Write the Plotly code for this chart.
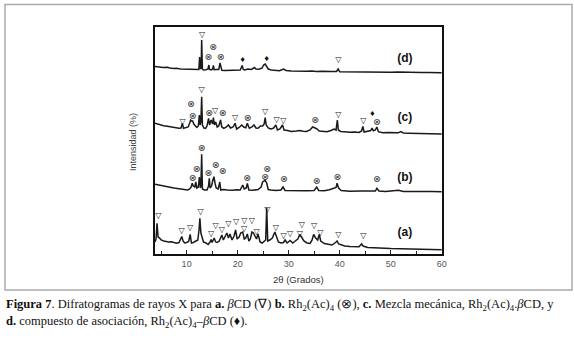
import plotly.graph_objects as go

# ---------------- data (2theta in degrees, intensity in arbitrary units) -------------
trace_d = [(3.8, 187.5), (4.5, 187), (5.4, 186.5), (6.2, 186.8), (6.7, 186), (7.5, 185.6), (8.0, 185.8),
           (8.8, 185), (9.4, 184.8), (10.0, 185.1), (10.7, 184.5), (11.3, 184.7), (12.0, 184.3), (12.4, 184.5),
           (12.55, 197), (12.7, 185), (12.85, 186), (12.95, 214), (13.1, 185), (13.3, 184), (13.8, 184.2),
           (14.2, 185), (14.35, 189), (14.5, 184.5), (14.8, 184), (15.1, 185), (15.25, 188.5), (15.4, 184.3),
           (15.8, 184.6), (16.3, 184.5), (16.55, 191), (16.7, 186), (16.9, 183.8), (17.5, 183.5), (18.3, 183.7),
           (19.0, 183.2), (19.8, 183.6), (20.5, 184), (20.9, 188.5), (21.1, 184.5), (21.4, 184), (22.0, 185),
           (22.7, 184.5), (23.3, 186.5), (23.6, 185), (24.2, 184.8), (24.8, 186), (25.1, 189), (25.4, 190),
           (25.7, 187), (26.0, 185), (26.6, 184), (27.4, 183.5), (28.2, 183.2), (29.0, 185), (29.5, 183.5),
           (30.5, 183), (31.5, 182.8), (32.5, 183.2), (33.5, 182.7), (34.5, 183), (35.5, 182.5), (36.5, 182.8),
           (37.5, 182.4), (38.5, 182.6), (39.4, 182.5), (39.7, 185), (40.0, 182.3), (41.0, 182.2), (42.5, 182.5),
           (44.0, 182), (45.5, 182.3), (47.0, 181.8), (48.5, 182), (50.0, 181.8), (51.5, 182), (53.0, 181.6),
           (54.5, 181.7), (56.0, 181.5), (57.5, 181.6), (59.0, 181.3), (60.0, 181.3)]

trace_c = [(3.8, 130.7), (4.5, 129.5), (5.5, 128.3), (6.5, 127.5), (7.5, 126.5), (8.5, 125.8), (8.9, 126),
           (9.15, 130.5), (9.4, 125.7), (9.8, 126), (10.3, 127), (10.6, 131), (10.8, 134), (11.0, 133),
           (11.2, 133), (11.4, 130), (11.7, 128.5), (12.0, 126.5), (12.3, 128), (12.5, 139), (12.65, 129),
           (12.8, 132), (12.95, 157.3), (13.1, 129), (13.4, 126), (13.7, 125.7), (14.0, 128), (14.3, 135.7),
           (14.5, 129), (14.8, 134), (15.1, 130), (15.25, 136.3), (15.45, 129), (15.7, 132), (16.0, 127),
           (16.3, 128), (16.65, 134), (16.9, 127), (17.3, 125.7), (17.8, 127), (18.2, 129), (18.6, 126),
           (19.1, 127), (19.5, 130.7), (19.8, 125), (20.3, 126.5), (20.8, 129), (21.2, 127), (21.6, 126.3),
           (21.9, 130.7), (22.3, 125.7), (22.8, 127), (23.2, 129), (23.6, 126), (24.0, 125.7), (24.5, 128),
           (24.9, 128), (25.2, 130), (25.4, 136.3), (25.6, 129), (26.0, 126), (26.5, 125), (27.0, 125.7),
           (27.5, 129), (27.8, 124), (28.3, 125), (28.8, 129), (29.1, 124), (29.8, 123.5), (30.5, 122.5),
           (31.5, 123), (32.2, 123.5), (32.8, 122.7), (33.5, 122.5), (34.2, 124), (34.7, 127), (35.2, 126),
           (35.6, 125), (36.0, 123), (36.8, 122.5), (37.5, 122.3), (38.3, 123.5), (38.9, 125), (39.3, 124),
           (39.55, 134), (39.75, 124), (40.2, 122.5), (41.0, 122.3), (42.0, 121.7), (43.0, 122), (43.8, 121.5),
           (44.3, 123), (44.55, 127.5), (44.8, 122), (45.5, 122.5), (46.1, 123.5), (46.35, 126), (46.6, 123.3),
           (47.0, 124), (47.3, 127), (47.6, 122.3), (48.5, 121.3), (49.5, 121.5), (50.5, 121), (51.5, 121.2),
           (52.0, 122.5), (52.5, 121), (53.5, 120.8), (55.0, 120.6), (56.5, 120.5), (58.0, 120.3), (60.0, 120)]

trace_b = [(3.8, 69.7), (4.5, 69), (5.5, 67.5), (6.5, 67), (7.5, 66), (8.5, 65.3), (9.5, 64.5), (10.2, 64),
           (10.6, 65), (10.9, 67), (11.1, 70.7), (11.3, 68), (11.6, 67), (11.8, 72), (12.0, 66), (12.3, 67),
           (12.5, 77), (12.7, 66), (12.8, 68), (12.95, 99.7), (13.1, 65), (13.5, 64), (14.0, 64), (14.3, 68),
           (14.45, 75.7), (14.6, 66), (14.9, 68), (15.1, 73), (15.35, 77.3), (15.6, 70), (15.8, 66), (16.2, 65),
           (16.5, 72), (16.7, 64), (17.2, 64.5), (18.0, 64), (19.0, 63.7), (19.8, 64.3), (20.5, 64), (21.0, 69),
           (21.3, 65), (21.7, 66), (21.9, 70.7), (22.2, 64), (23.0, 63.7), (24.0, 64.5), (24.6, 67), (24.9, 72),
           (25.1, 73), (25.4, 73.7), (25.7, 71), (26.0, 64.5), (26.5, 64), (27.5, 63.5), (28.5, 64), (28.9, 67),
           (29.3, 63.5), (30.5, 63.2), (32.0, 63), (33.5, 63.2), (35.0, 63.5), (35.5, 67), (35.9, 63.5),
           (37.0, 63.3), (38.0, 64.3), (38.8, 65.5), (39.3, 66.5), (39.5, 70.7), (39.8, 66), (40.3, 63.5),
           (42.0, 62.8), (44.0, 63), (45.5, 62.7), (47.0, 63), (47.3, 65.7), (47.7, 63), (49.0, 62.5),
           (50.5, 63.3), (51.5, 63.7), (52.5, 62.5), (54.0, 62.7), (56.0, 62.3), (58.0, 62.5), (60.0, 62.3)]

trace_a = [(3.8, 12), (4.0, 15), (4.2, 30.7), (4.4, 17), (4.7, 16), (5.0, 14), (5.5, 13), (6.0, 12.5),
           (6.5, 12), (7.0, 12.3), (7.5, 11.5), (8.0, 10.8), (8.5, 11.5), (8.85, 15), (9.05, 17.5), (9.3, 13),
           (9.6, 11), (10.0, 11.5), (10.4, 12.5), (10.7, 19.7), (10.95, 11), (11.3, 11.5), (11.8, 12.5),
           (12.2, 14), (12.45, 25), (12.6, 35.7), (12.8, 21), (13.0, 16), (13.3, 12), (13.8, 11), (14.2, 9.5),
           (14.6, 12), (14.8, 14.5), (15.0, 11.5), (15.4, 16), (15.7, 12), (16.0, 11.5), (16.4, 13), (16.9, 19),
           (17.2, 14), (17.6, 18), (17.9, 21), (18.2, 16), (18.5, 20), (18.9, 14), (19.3, 18), (19.6, 24),
           (19.9, 15), (20.3, 17), (20.6, 21), (21.0, 22), (21.3, 15), (21.6, 16), (21.9, 20), (22.2, 13),
           (22.5, 15), (22.8, 22), (23.1, 21), (23.4, 18), (23.7, 15), (24.0, 20), (24.4, 12), (24.8, 11),
           (25.2, 13), (25.5, 14), (25.7, 46.3), (25.9, 13), (26.3, 14), (26.8, 16), (27.3, 22), (27.6, 17),
           (28.0, 12), (28.5, 11), (29.0, 11.5), (29.3, 14), (29.7, 11), (30.3, 13.5), (30.8, 11), (31.3, 13),
           (31.8, 15), (32.2, 19.5), (32.6, 16), (33.0, 13), (33.6, 11), (34.2, 10.5), (34.6, 14), (34.9, 19.5),
           (35.3, 16), (35.7, 14), (36.0, 19.5), (36.3, 13), (37.0, 10.5), (37.8, 9.5), (38.5, 9), (39.2, 11.5),
           (39.5, 13), (39.8, 10), (40.3, 9), (41.0, 8), (42.0, 7.5), (43.0, 7), (43.8, 7.3), (44.3, 10),
           (44.6, 8), (45.5, 6.5), (47.0, 6), (48.5, 5.7), (50.0, 5.5), (52.0, 5.3), (54.0, 5), (55.5, 5.3),
           (56.5, 4.7), (58.0, 4.5), (60.0, 4.3)]

# peak assignment symbols (2theta, height)
triangle_marks = [(13.05, 219.5), (39.75, 193.8),
                  (9.2, 131.8), (12.95, 163.8), (15.6, 143.5), (19.5, 136.2), (25.4, 142.2), (27.65, 134.5),
                  (28.95, 133.5), (39.75, 139.5), (44.65, 132.8),
                  (4.45, 37.8), (9.0, 23.5), (10.7, 26.2), (12.75, 42.2), (14.8, 20.2), (15.7, 28.5), (16.9, 24.5),
                  (18.2, 30.2), (19.7, 32.2), (21.3, 33.0), (21.25, 25.0), (22.8, 32.8), (23.7, 22.2), (25.8, 44.5),
                  (27.5, 26.2), (29.0, 17.8), (30.3, 20.2), (32.2, 20.2), (32.6, 28.8), (35.0, 27.8), (36.2, 21.2),
                  (39.75, 18.8), (44.65, 17.8)]
otimes_marks = [(14.3, 196.7), (15.2, 206.0), (16.7, 196.7),
                (10.85, 149), (11.2, 137.3), (14.45, 140), (17.1, 140), (22.0, 135.7), (35.2, 133), (47.3, 131.3),
                (12.95, 105), (12.0, 84.7), (11.2, 75), (14.3, 80), (15.7, 88), (17.1, 82.3), (21.9, 75),
                (25.4, 76.0), (25.8, 84.5), (29.1, 74), (35.5, 72.3), (39.6, 76.7), (47.3, 74)]
diamond_marks = [(21.0, 193.5), (25.7, 194.3), (46.4, 139.5)]

curve_labels = ["<b>(d)</b>", "<b>(c)</b>", "<b>(b)</b>", "<b>(a)</b>"]
curve_label_x = [52.8, 52.8, 52.8, 52.8]
curve_label_y = [195, 135.7, 76.3, 20.7]

x_ticks = [10, 20, 30, 40, 50, 60]

# ---------------- figure -------------
fig = go.Figure()
for pts in (trace_d, trace_c, trace_b, trace_a):
    fig.add_trace(go.Scatter(x=[p[0] for p in pts], y=[p[1] for p in pts], mode="lines",
                             line=dict(color="#1a1a1a", width=1.5), hoverinfo="skip", showlegend=False))

fig.add_trace(go.Scatter(x=[p[0] for p in triangle_marks], y=[p[1] for p in triangle_marks], mode="text",
                         text=["▽"] * len(triangle_marks), textposition="middle center", hoverinfo="skip",
                         textfont=dict(family="DejaVu Sans", size=8, color="#222"), showlegend=False))
fig.add_trace(go.Scatter(x=[p[0] for p in otimes_marks], y=[p[1] for p in otimes_marks], mode="text",
                         text=["⊗"] * len(otimes_marks), textposition="middle center", hoverinfo="skip",
                         textfont=dict(family="DejaVu Sans", size=9.5, color="#333"), showlegend=False))
fig.add_trace(go.Scatter(x=[p[0] for p in diamond_marks], y=[p[1] for p in diamond_marks], mode="text",
                         text=["♦"] * len(diamond_marks), textposition="middle center", hoverinfo="skip",
                         textfont=dict(family="DejaVu Sans", size=7, color="#111"), showlegend=False))
fig.add_trace(go.Scatter(x=curve_label_x, y=curve_label_y, mode="text", text=curve_labels,
                         textposition="middle center", hoverinfo="skip",
                         textfont=dict(family="Liberation Sans", size=12, color="#111"), showlegend=False))

L, R, T, B = 155, 132, 27, 84
PW, PH = 574 - L - R, 338 - T - B


def px(xp):
    return (xp - L) / PW


def py(yp):
    return (338 - B - yp) / PH


fig.update_layout(
    width=574, height=338,
    margin=dict(l=L, r=R, t=T, b=B, pad=0),
    paper_bgcolor="white", plot_bgcolor="white",
    xaxis=dict(range=[3.8, 60.07], tickvals=x_ticks, ticks="inside", ticklen=4, tickcolor="#222",
               showline=True, linecolor="#111", linewidth=1.5, mirror=True, showgrid=False, zeroline=False,
               tickfont=dict(family="Liberation Sans", size=9, color="#555"),
               minor=dict(dtick=5, tick0=0, ticks="inside", ticklen=3, tickcolor="#222")),
    yaxis=dict(range=[0, 227], showticklabels=False, ticks="", showline=True, linecolor="#111", linewidth=1.5,
               mirror=True, showgrid=False, zeroline=False),
    shapes=[dict(type="rect", xref="paper", yref="paper", x0=px(5), x1=px(572), y0=py(290), y1=py(4.5),
                 line=dict(color="#aaaaaa", width=1.5), fillcolor="rgba(0,0,0,0)", layer="below")],
    annotations=[
        dict(text="2θ (Grados)", xref="paper", yref="paper", x=px(298), y=py(279), showarrow=False,
             font=dict(family="Liberation Sans", size=9.5, color="#333"), xanchor="center", yanchor="middle"),
        dict(text="Intensidad (%)", xref="paper", yref="paper", x=px(133), y=py(142), showarrow=False,
             textangle=-90, font=dict(family="Liberation Sans", size=9, color="#444"),
             xanchor="center", yanchor="middle"),
        dict(text="<b>Figura 7</b>. Difratogramas de rayos X para <b>a.</b> <i>β</i>CD (∇) <b>b.</b> Rh<sub>2</sub>(Ac)<sub>4</sub> (⊗), "
                  "<b>c.</b> Mezcla mecánica, Rh<sub>2</sub>(Ac)<sub>4</sub>.<i>β</i>CD, y",
             xref="paper", yref="paper", x=px(4), y=py(305), showarrow=False, xanchor="left", yanchor="middle",
             font=dict(family="Liberation Serif", size=12.5, color="#111")),
        dict(text="<b>d.</b> compuesto de asociación, Rh<sub>2</sub>(Ac)<sub>4</sub>–<i>β</i>CD (♦).",
             xref="paper", yref="paper", x=px(4), y=py(322), showarrow=False, xanchor="left", yanchor="middle",
             font=dict(family="Liberation Serif", size=12.5, color="#111")),
    ],
)

fig.write_html("out.html", config={"displayModeBar": False},
               post_script="document.body.style.margin='0px';document.body.style.overflow='hidden';")
